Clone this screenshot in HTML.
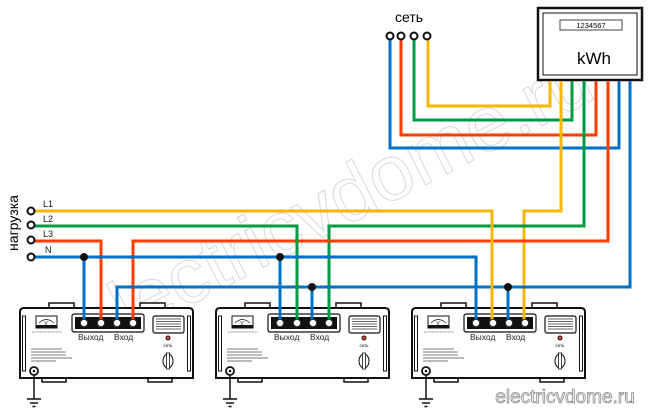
<!DOCTYPE html>
<html><head><meta charset="utf-8"><style>
html,body{margin:0;padding:0;background:#fff;}
svg{display:block;font-family:"Liberation Sans",sans-serif;}
</style></head><body>
<svg width="650" height="409" viewBox="0 0 650 409" xmlns="http://www.w3.org/2000/svg">
<defs>
<g id="unit">
  <rect x="49" y="303" width="25" height="6" fill="#fff" stroke="#111" stroke-width="1.5"/>
  <rect x="140" y="303" width="25" height="6" fill="#fff" stroke="#111" stroke-width="1.5"/>
  <rect x="42" y="376" width="24" height="6" fill="#fff" stroke="#111" stroke-width="1.5"/>
  <rect x="148" y="376" width="24" height="6" fill="#fff" stroke="#111" stroke-width="1.5"/>
  <path d="M24 308 H189 Q193 308 193 312 V378 H20 V312 Q20 308 24 308 Z" fill="#fff" stroke="#111" stroke-width="2"/>
  <rect x="22.5" y="316" width="3" height="55" fill="#fff" stroke="#111" stroke-width="1"/>
  <rect x="187.5" y="316" width="3" height="55" fill="#fff" stroke="#111" stroke-width="1"/>
  <rect x="36" y="316" width="21" height="12" fill="#fff" stroke="#111" stroke-width="1"/>
  <rect x="36" y="325" width="21" height="3" fill="#111"/>
  <path d="M39 323 Q46 316 54 323" fill="none" stroke="#111" stroke-width="0.6"/>
  <text x="46" y="325" font-size="5" text-anchor="middle">V</text>
  <line x1="32" y1="332" x2="62" y2="332" stroke="#666" stroke-width="0.8" stroke-dasharray="1 0.6"/>
  <rect x="72" y="314" width="72" height="18" rx="2" fill="#fff" stroke="#111" stroke-width="1.2"/>
  <rect x="75" y="317" width="66" height="12" fill="#111"/>
  <g fill="#fff" stroke="#333" stroke-width="1">
    <circle cx="84" cy="323" r="3.6"/><circle cx="101" cy="323" r="3.6"/><circle cx="117" cy="323" r="3.6"/><circle cx="133" cy="323" r="3.6"/>
  </g>
  <text x="78" y="340" font-size="8.5" fill="#222">Выход</text>
  <text x="114" y="340" font-size="8.5" fill="#222">Вход</text>
  <rect x="153" y="316" width="31" height="17" rx="2" fill="#fff" stroke="#111" stroke-width="1.2"/>
  <g stroke="#333" stroke-width="0.7"><line x1="156" y1="319" x2="181" y2="319"/><line x1="156" y1="321.5" x2="181" y2="321.5"/><line x1="156" y1="324" x2="181" y2="324"/><line x1="156" y1="326.5" x2="181" y2="326.5"/><line x1="156" y1="329" x2="181" y2="329"/></g>
  <circle cx="168" cy="338" r="2" fill="#e53" stroke="#111" stroke-width="1"/>
  <text x="168" y="347" font-size="4.5" text-anchor="middle">сеть</text>
  <ellipse cx="168" cy="361" rx="5" ry="7" fill="#fff" stroke="#111" stroke-width="1"/>
  <rect x="166.5" y="353" width="3" height="16" fill="#fff" stroke="#111" stroke-width="0.8"/>
  <g stroke="#777" stroke-width="1"><line x1="31" y1="349" x2="62" y2="349"/><line x1="31" y1="352" x2="66" y2="352"/><line x1="31" y1="355" x2="66" y2="355"/><line x1="31" y1="358" x2="72" y2="358"/><line x1="31" y1="361" x2="56" y2="361"/></g>
  <circle cx="34" cy="371" r="4" fill="#fff" stroke="#111" stroke-width="1.8"/>
  <circle cx="34" cy="371" r="1.3" fill="#111"/>
  <line x1="34" y1="375" x2="34" y2="399" stroke="#111" stroke-width="1.5"/>
  <line x1="27" y1="399" x2="41" y2="399" stroke="#111" stroke-width="1.5"/>
  <line x1="30" y1="403" x2="38" y2="403" stroke="#111" stroke-width="1.5"/>
  <line x1="32.5" y1="406.5" x2="35.5" y2="406.5" stroke="#111" stroke-width="1.5"/>
</g>
</defs>

<!-- watermark -->
<text x="330" y="230" font-size="78" text-anchor="middle" fill="none" stroke="#d8d8d8" stroke-width="1" transform="rotate(-27 330 200)">electricvdome.ru</text>

<!-- units -->
<use href="#unit"/>
<use href="#unit" transform="translate(196 0)"/>
<use href="#unit" transform="translate(392 0)"/>

<!-- meter -->
<rect x="538" y="8" width="104" height="72" fill="#fff" stroke="#111" stroke-width="2.5"/>
<rect x="543" y="13" width="94" height="62" fill="none" stroke="#111" stroke-width="1"/>
<rect x="560" y="20" width="62" height="10" fill="#fff" stroke="#444" stroke-width="1"/>
<text x="591" y="28" font-size="7.5" text-anchor="middle">1234567</text>
<text x="594" y="64" font-size="17" text-anchor="middle">kWh</text>

<g fill="none" stroke-width="3" stroke-linejoin="miter">
  <!-- meter in -->
  <polyline points="428,38 428,106 550,106 550,81" stroke="#f5b800"/>
  <polyline points="414,38 414,120 572,120 572,81" stroke="#009a44"/>
  <polyline points="401,38 401,135 596,135 596,81" stroke="#ff3c00"/>
  <polyline points="390,38 390,148 619,148 619,81" stroke="#0070c8"/>
  <!-- meter out -->
  <polyline points="561,81 561,211 524,211 524,320" stroke="#f5b800"/>
  <polyline points="584,81 584,226 329,226 329,320" stroke="#009a44"/>
  <polyline points="608,81 608,241 133,241 133,320" stroke="#ff3c00"/>
  <polyline points="630,81 630,287 117,287 117,320" stroke="#0070c8"/>
  <!-- load -->
  <polyline points="31,211 492,211 492,320" stroke="#f5b800"/>
  <polyline points="31,226 297,226 297,320" stroke="#009a44"/>
  <polyline points="31,241 101,241 101,320" stroke="#ff3c00"/>
  <polyline points="31,257 476,257 476,320" stroke="#0070c8"/>
  <line x1="84" y1="257" x2="84" y2="320" stroke="#0070c8"/>
  <line x1="280" y1="257" x2="280" y2="320" stroke="#0070c8"/>
  <line x1="312" y1="287" x2="312" y2="320" stroke="#0070c8"/>
  <line x1="508" y1="287" x2="508" y2="320" stroke="#0070c8"/>
</g>
<g fill="#fff" stroke="#333" stroke-width="1">
  <circle cx="84" cy="323" r="3.6"/><circle cx="101" cy="323" r="3.6"/><circle cx="117" cy="323" r="3.6"/><circle cx="133" cy="323" r="3.6"/>
  <circle cx="280" cy="323" r="3.6"/><circle cx="297" cy="323" r="3.6"/><circle cx="313" cy="323" r="3.6"/><circle cx="329" cy="323" r="3.6"/>
  <circle cx="476" cy="323" r="3.6"/><circle cx="493" cy="323" r="3.6"/><circle cx="509" cy="323" r="3.6"/><circle cx="525" cy="323" r="3.6"/>
</g>
<g fill="#111">
  <circle cx="84" cy="257" r="4"/><circle cx="280" cy="257" r="4"/>
  <circle cx="312" cy="287" r="4"/><circle cx="508" cy="287" r="4"/>
</g>

<!-- source terminals -->
<text x="395" y="22" font-size="14">сеть</text>
<g fill="#fff" stroke="#111" stroke-width="2">
  <circle cx="390" cy="36" r="3.5"/><circle cx="401" cy="36" r="3.5"/><circle cx="414" cy="36" r="3.5"/><circle cx="427" cy="36" r="3.5"/>
</g>

<!-- load terminals -->
<g fill="#fff" stroke="#111" stroke-width="2">
  <circle cx="31" cy="211" r="3.5"/><circle cx="31" cy="225" r="3.5"/><circle cx="31" cy="240" r="3.5"/><circle cx="31" cy="257" r="3.5"/>
</g>
<g font-size="9" fill="#111">
  <text x="43" y="207">L1</text><text x="43" y="222">L2</text><text x="43" y="237">L3</text><text x="45" y="253">N</text>
</g>
<text x="0" y="0" font-size="14" text-anchor="middle" transform="translate(18 223) rotate(-90)">нагрузка</text>

<text x="565" y="403" font-size="19" text-anchor="middle" fill="#fff" stroke="#888" stroke-width="0.8">electricvdome.ru</text>
</svg>
</body></html>
